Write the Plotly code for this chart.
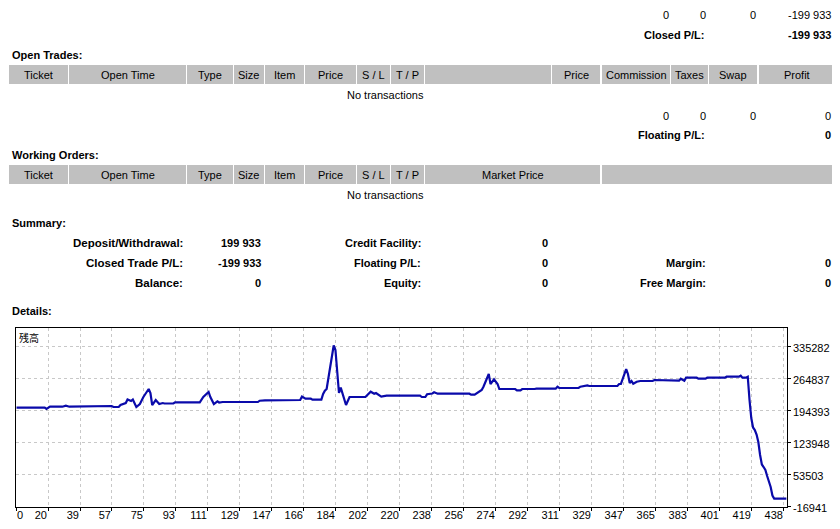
import plotly.graph_objects as go

# balance curve (deal number -> balance)
deal_no = [3, 11, 19, 20, 22, 29, 31, 33, 38, 39, 57, 58, 61, 62, 65, 66, 68, 69, 71, 73,
           75, 78, 79, 80, 82, 84, 86, 87, 92, 93, 107, 109, 112, 113, 115, 117, 118, 120, 140, 141,
           144, 164, 165, 167, 170, 171, 176, 177, 178, 179, 181, 183, 184, 185, 186, 187, 188, 190, 192, 201,
           204, 206, 207, 209, 210, 213, 232, 233, 235, 236, 239, 240, 242, 260, 261, 263, 265, 267, 268, 271,
           272, 274, 276, 277, 286, 287, 289, 290, 297, 298, 309, 310, 311, 322, 323, 327, 328, 344, 345, 346,
           349, 350, 351, 352, 353, 355, 357, 364, 365, 374, 375, 379, 380, 382, 383, 389, 390, 394, 395, 405,
           406, 413, 414, 415, 417, 418, 419, 420, 421, 422, 423, 424, 425, 426, 427, 428, 429, 430, 431, 432,
           433, 440]
balance = [199933, 199900, 199700, 196900, 201900, 201900, 204100, 201900, 201900, 203400,
           203400, 201200, 201200, 205600, 210000, 217700, 214400, 217700, 201200, 207800,
           223200, 240800, 232000, 205600, 216600, 207800, 210000, 208900, 208900, 211600,
           211600, 223200, 234200, 223200, 207800, 213800, 211100, 212200, 212200, 215100,
           216000, 216600, 224300, 219500, 219500, 217300, 217300, 229800, 237100, 240800,
           293500, 336400, 326500, 271600, 232000, 243700, 232000, 205600, 223200, 223200,
           234900, 230500, 232000, 226100, 223900, 226100, 226100, 223200, 223200, 229200,
           230900, 233500, 230500, 230500, 228300, 228300, 232700, 238600, 245900, 273800,
           251800, 262100, 251800, 240800, 240800, 237900, 237900, 240800, 240800, 241500,
           241500, 245900, 243000, 243000, 245900, 248500, 247400, 247400, 251800, 251800,
           284700, 273800, 254000, 258400, 252400, 256800, 258400, 258400, 260600, 260600,
           259000, 259000, 263400, 259000, 265600, 265600, 263400, 263400, 265600, 265600,
           267800, 267800, 270000, 265600, 265600, 267800, 216600, 177100, 156200, 150700,
           140800, 124300, 95800, 74900, 69400, 62800, 49600, 38600, 25500, 6800,
           0, 0]

x_tick_labels = ["0", "20", "39", "57", "75", "93", "111", "129", "147", "166", "184", "202", "220",
                 "238", "256", "274", "292", "311", "329", "347", "365", "383", "401", "419", "438"]
y_tick_vals = [335282, 264837, 194393, 123948, 53503, -16941]

open_trade_cols = ["Ticket", "Open Time", "Type", "Size", "Item", "Price", "S / L", "T / P", "",
                   "Price", "Commission", "Taxes", "Swap", "Profit"]
working_cols = ["Ticket", "Open Time", "Type", "Size", "Item", "Price", "S / L", "T / P",
                "Market Price", ""]

closed_totals = ["0", "0", "0", "-199 933"]
closed_pl = "-199 933"
floating_totals = ["0", "0", "0", "0"]
floating_pl = "0"

summary_left = [("Deposit/Withdrawal:", "199 933"), ("Closed Trade P/L:", "-199 933"), ("Balance:", "0")]
summary_mid = [("Credit Facility:", "0"), ("Floating P/L:", "0"), ("Equity:", "0")]
summary_right = [("", ""), ("Margin:", "0"), ("Free Margin:", "0")]

W, H = 840, 529
PAGE_PAD = 8  # the page body adds an 8px margin around the figure
FONT = "Liberation Sans"
X_LO, X_HI = 2.7, 440.1
GRID_STEP = 18.16
RIGHT = 831


def fx(x):
    return (x - PAGE_PAD) / W


def fy(y):
    return 1 - (y - PAGE_PAD) / H


annotations = []
shapes = []


def label(text, x, y, anchor="left", bold=False, size=11):
    if text == "":
        return
    annotations.append(dict(text="<b>%s</b>" % text if bold else text, x=fx(x), y=fy(y),
                            xref="paper", yref="paper", xanchor=anchor, yanchor="middle",
                            showarrow=False, borderpad=0, borderwidth=0,
                            font=dict(size=size, color="black", family=FONT)))


def header_row(cols, edges, y0, y1):
    for name, (a, b) in zip(cols, edges):
        shapes.append(dict(type="rect", xref="paper", yref="paper", x0=fx(a), x1=fx(b),
                           y0=fy(y1), y1=fy(y0), fillcolor="#c0c0c0", line=dict(width=0), layer="below"))
        label(name, (a + b) / 2, (y0 + y1) / 2 + 0.5, anchor="center")


open_edges = [(9, 68), (69, 186), (187, 233), (234, 264), (265, 304), (305, 356), (357, 390), (391, 424),
              (425, 551), (552, 600), (602, 670), (671, 708), (709, 757), (759, 834)]
work_edges = open_edges[:8] + [(425, 600), (602, 834)]
total_x = [669, 706, 756, RIGHT]

# closed transactions footer
for v, x in zip(closed_totals, total_x):
    label(v, x, 15, anchor="right")
label("Closed P/L:", 705, 35, anchor="right", bold=True)
label(closed_pl, RIGHT, 35, anchor="right", bold=True)

# open trades
label("Open Trades:", 12, 55, bold=True)
header_row(open_trade_cols, open_edges, 65, 84)
label("No transactions", 385, 95, anchor="center")
for v, x in zip(floating_totals, total_x):
    label(v, x, 115.5, anchor="right")
label("Floating P/L:", 705, 135, anchor="right", bold=True)
label(floating_pl, RIGHT, 135, anchor="right", bold=True)

# working orders
label("Working Orders:", 12, 155, bold=True)
header_row(working_cols, work_edges, 165, 184)
label("No transactions", 385, 195, anchor="center")

# summary
label("Summary:", 12, 223, bold=True)
for i, y in enumerate([243, 263, 283]):
    label(summary_left[i][0], 183, y, anchor="right", bold=True, size=11.5)
    label(summary_left[i][1], 261, y, anchor="right", bold=True)
    label(summary_mid[i][0], 421, y, anchor="right", bold=True)
    label(summary_mid[i][1], 548, y, anchor="right", bold=True)
    label(summary_right[i][0], 706, y, anchor="right", bold=True)
    label(summary_right[i][1], RIGHT, y, anchor="right", bold=True)

label("Details:", 12, 311, bold=True)
label("残高", 19, 337, size=10)
annotations[-1]["font"]["family"] = "Noto Sans CJK JP"
# first x label sits inside the left frame edge, as in the statement graph
label(x_tick_labels[0], 16.5, 514.5)

fig = go.Figure()
fig.add_trace(go.Scatter(x=deal_no, y=balance, mode="lines",
                         line=dict(color="#0a0aaa", width=2.2), hoverinfo="skip"))

fig.update_layout(
    width=W, height=H,
    margin=dict(l=0, r=0, t=0, b=0, autoexpand=False),
    paper_bgcolor="white", plot_bgcolor="white",
    showlegend=False,
    font=dict(family=FONT, size=11, color="black"),
    annotations=annotations,
    shapes=shapes,
    xaxis=dict(domain=[fx(16), fx(786.7)], range=[X_LO, X_HI], automargin=False,
               tickmode="array", tickvals=[X_LO + GRID_STEP * k for k in range(len(x_tick_labels))],
               ticktext=[""] + x_tick_labels[1:], ticklabelposition="outside left",
               ticklabelstandoff=-2,
               ticks="outside", ticklen=3, tickcolor="black",
               showgrid=True, gridcolor="#c8c8c8", griddash="3px,3px", gridwidth=1,
               showline=True, linecolor="black", linewidth=1, mirror=True, zeroline=False,
               tickfont=dict(size=11, color="black", family=FONT)),
    yaxis=dict(domain=[fy(506.7), fy(328)], range=[-17824, 374833], side="right", automargin=False,
               tickmode="array", tickvals=y_tick_vals, ticktext=[str(v) for v in y_tick_vals],
               ticks="outside", ticklen=3, tickcolor="black", ticklabelshift=2,
               showgrid=True, gridcolor="#c8c8c8", griddash="3px,3px", gridwidth=1,
               showline=True, linecolor="black", linewidth=1, mirror=True, zeroline=False,
               tickfont=dict(size=11, color="black", family=FONT)),
)

fig.write_html("out.html")
